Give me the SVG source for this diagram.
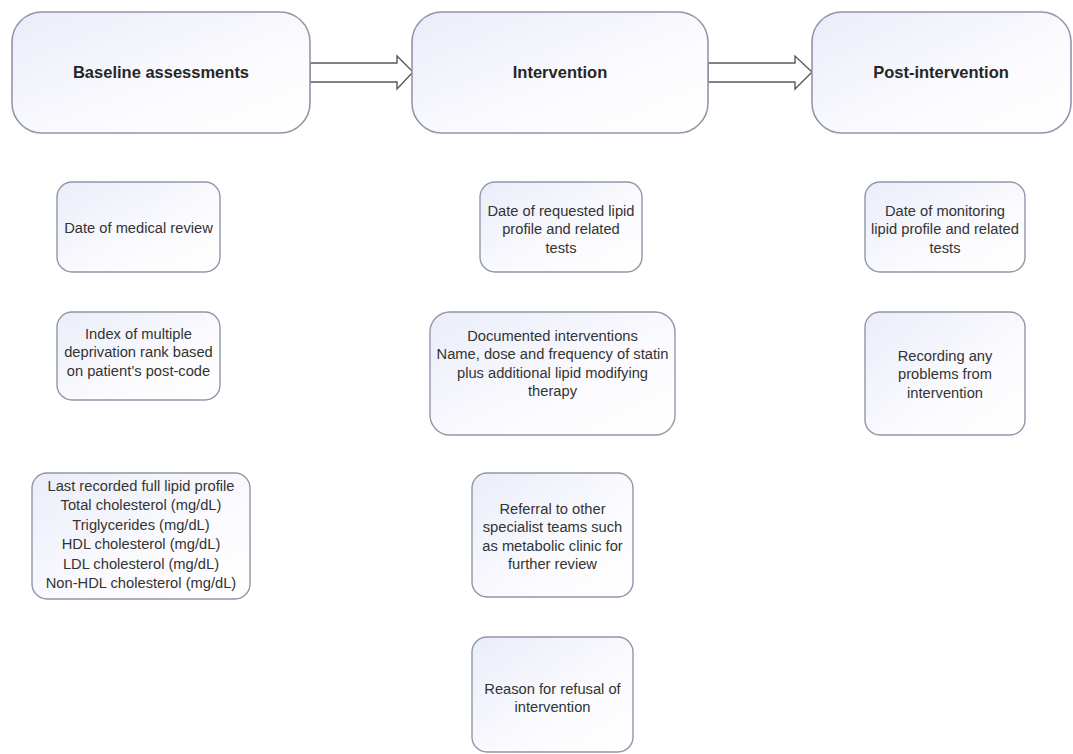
<svg xmlns="http://www.w3.org/2000/svg" width="1073" height="754" viewBox="0 0 1073 754">
<defs>
<linearGradient id="g" x1="0" y1="0" x2="1" y2="1">
<stop offset="0" stop-color="#eaedf9"/>
<stop offset="0.6" stop-color="#fbfbfe"/>
<stop offset="1" stop-color="#ffffff"/>
</linearGradient>
<style>
.hb{fill:url(#g);stroke:#9097aa;stroke-width:1.6}
.sb{fill:url(#g);stroke:#9097aa;stroke-width:1.4}
.ht{font-family:"Liberation Sans",Arial,sans-serif;font-size:16.5px;font-weight:bold;fill:#262626;text-anchor:middle}
.t{font-family:"Liberation Sans",Arial,sans-serif;font-size:14.7px;fill:#333333;text-anchor:middle}
.ar{fill:#ffffff;stroke:#5a5a5a;stroke-width:1.4;stroke-linejoin:miter}
</style>
</defs>
<rect width="1073" height="754" fill="#ffffff"/>
<g id="connectors">
<path class="ar" d="M310,63 L397,63 L397,56 L413,72 L397,89 L397,82 L310,82 Z"/>
<path class="ar" d="M708,63 L795,63 L795,56 L812,72 L795,89 L795,82 L708,82 Z"/>
</g>
<g id="baseline">
<rect class="hb" x="12" y="12" width="298" height="121" rx="30"/>
<text class="ht" x="161" y="78">Baseline assessments</text>
</g>
<g id="intervention">
<rect class="hb" x="412" y="12" width="296" height="121" rx="30"/>
<text class="ht" x="560" y="78">Intervention</text>
</g>
<g id="post-intervention">
<rect class="hb" x="812" y="12" width="259" height="121" rx="30"/>
<text class="ht" x="941" y="78">Post-intervention</text>
</g>
<g id="medical-review">
<rect class="sb" x="57" y="182" width="163" height="90" rx="15"/>
<text class="t" x="138.5" y="232.5">Date of medical review</text>
</g>
<g id="deprivation">
<rect class="sb" x="57" y="312" width="163" height="88" rx="15"/>
<text class="t" x="138.5"><tspan x="138.5" y="338.5">Index of multiple</tspan><tspan x="138.5" y="357">deprivation rank based</tspan><tspan x="138.5" y="375.5">on patient’s post-code</tspan></text>
</g>
<g id="lipid-profile">
<rect class="sb" x="32" y="473" width="218" height="126" rx="15"/>
<text class="t" x="141"><tspan x="141" y="490.5">Last recorded full lipid profile</tspan><tspan x="141" y="510">Total cholesterol (mg/dL)</tspan><tspan x="141" y="529.5">Triglycerides (mg/dL)</tspan><tspan x="141" y="549">HDL cholesterol (mg/dL)</tspan><tspan x="141" y="568.5">LDL cholesterol (mg/dL)</tspan><tspan x="141" y="588">Non-HDL cholesterol (mg/dL)</tspan></text>
</g>
<g id="requested-lipid">
<rect class="sb" x="480" y="182" width="162" height="90" rx="15"/>
<text class="t" x="561"><tspan x="561" y="215.5">Date of requested lipid</tspan><tspan x="561" y="234">profile and related</tspan><tspan x="561" y="252.5">tests</tspan></text>
</g>
<g id="documented">
<rect class="sb" x="430" y="312" width="245" height="123" rx="20"/>
<text class="t" x="552.5"><tspan x="552.5" y="340.5">Documented interventions</tspan><tspan x="552.5" y="359">Name, dose and frequency of statin</tspan><tspan x="552.5" y="377.5">plus additional lipid modifying</tspan><tspan x="552.5" y="396">therapy</tspan></text>
</g>
<g id="referral">
<rect class="sb" x="472" y="473" width="161" height="124" rx="15"/>
<text class="t" x="552.5"><tspan x="552.5" y="513.5">Referral to other</tspan><tspan x="552.5" y="532">specialist teams such</tspan><tspan x="552.5" y="550.5">as metabolic clinic for</tspan><tspan x="552.5" y="569">further review</tspan></text>
</g>
<g id="refusal">
<rect class="sb" x="472" y="637" width="161" height="115" rx="15"/>
<text class="t" x="552.5"><tspan x="552.5" y="693.5">Reason for refusal of</tspan><tspan x="552.5" y="712">intervention</tspan></text>
</g>
<g id="monitoring">
<rect class="sb" x="865" y="182" width="160" height="90" rx="15"/>
<text class="t" x="945"><tspan x="945" y="215.5">Date of monitoring</tspan><tspan x="945" y="234">lipid profile and related</tspan><tspan x="945" y="252.5">tests</tspan></text>
</g>
<g id="problems">
<rect class="sb" x="865" y="312" width="160" height="123" rx="15"/>
<text class="t" x="945"><tspan x="945" y="360.5">Recording any</tspan><tspan x="945" y="379">problems from</tspan><tspan x="945" y="397.5">intervention</tspan></text>
</g>
</svg>
